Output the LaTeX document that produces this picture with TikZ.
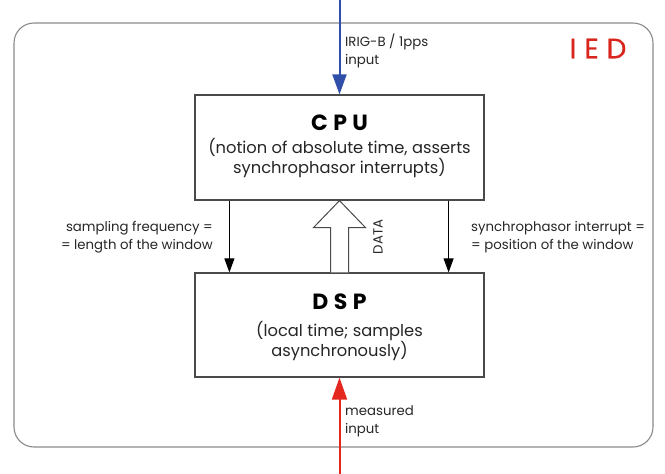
\documentclass[tikz,border=0pt]{standalone}
\usepackage{fontspec}
\setmainfont{Poppins}
\usetikzlibrary{arrows.meta,calc}

\definecolor{frame}{HTML}{8A8A8A}
\definecolor{boxline}{HTML}{4A4A4A}
\definecolor{syncblue}{HTML}{2F4FA8}
\definecolor{measred}{HTML}{E5281F}
\definecolor{iedred}{HTML}{D8261E}

\tikzset{
  unitbox/.style={draw=boxline, line width=1.2pt, fill=white,
    minimum width=289pt, inner sep=0pt},
  titletext/.style={font=\fontsize{22}{26}\selectfont\bfseries\addfontfeatures{LetterSpace=25}},
  subtext/.style={font=\fontsize{16.3}{20.5}\selectfont, align=center, text=black!85},
  lbl/.style={font=\fontsize{13.3}{18}\selectfont, text=black!85, inner sep=0pt},
  ctrl/.style={draw=black, line width=0.9pt, -{Triangle[length=14pt,width=10pt]}},
  syncin/.style={draw=syncblue, line width=2pt, -{Triangle[length=20pt,width=14pt]}},
  measin/.style={draw=measred, line width=2pt, -{Triangle[length=22pt,width=15pt]}},
}

\begin{document}
\begin{tikzpicture}[x=1pt,y=-1pt]
  \useasboundingbox (0,0) rectangle (665,474);

  % IED enclosure
  \draw[frame, line width=1.1pt, rounded corners=20pt] (14,23) rectangle (653,447);
  \node[text=iedred, font=\fontsize{28}{30}\selectfont\addfontfeatures{LetterSpace=28,FakeBold=0.6}, inner sep=0pt]
    (ied) at (598,48.5) {IED};

  % processing units
  \node[unitbox, minimum height=105pt] (cpu) at (339.5,147.5) {};
  \node[unitbox, minimum height=104pt] (dsp) at (339.5,325) {};

  \node[titletext] (cputitle) at (339.5,123) {CPU};
  \node[subtext] (cpusub) at (339.5,158) {(notion of absolute time, asserts\\synchrophasor interrupts)};
  \node[titletext] (dsptitle) at (339.5,302) {DSP};
  \node[subtext] (dspsub) at (339.5,341) {(local time; samples\\asynchronously)};

  % external inputs
  \coordinate (irigsrc) at (339.5,0);
  \coordinate (meassrc) at (339.5,474);
  \draw[syncin] (irigsrc) -- (cpu.north);
  \draw[measin] (meassrc) -- (dsp.south);
  \node[lbl, anchor=west, align=left] (iriglbl) at (345,51) {IRIG-B / 1pps\\input};
  \node[lbl, anchor=west, align=left] (measlbl) at (345,421) {measured\\input};

  % control signals CPU -> DSP
  \coordinate (lt) at ($(cpu.south west)+(35,0)$);
  \coordinate (lb) at ($(dsp.north west)+(35,0)$);
  \coordinate (rt) at ($(cpu.south east)+(-36,0)$);
  \coordinate (rb) at ($(dsp.north east)+(-36,0)$);
  \draw[ctrl] (lt) -- (lb);
  \draw[ctrl] (rt) -- (rb);
  \node[lbl, anchor=east, align=right] (freqlbl) at (213,237)
    {sampling frequency =\\= length of the window};
  \node[lbl, anchor=west, align=left] (intlbl) at (471,237)
    {synchrophasor interrupt =\\= position of the window};

  % data path DSP -> CPU (hollow arrow)
  \draw[boxline, line width=1pt, fill=white]
    ($(dsp.north)+(-9,0)$) -- ($(cpu.south)+(-9,27)$) -- ($(cpu.south)+(-26,27)$)
    -- (cpu.south) -- ($(cpu.south)+(26,27)$) -- ($(cpu.south)+(9,27)$)
    -- ($(dsp.north)+(9,0)$);
  \node[lbl, rotate=90] (datalbl) at (378,237) {DATA};
\end{tikzpicture}
\end{document}
